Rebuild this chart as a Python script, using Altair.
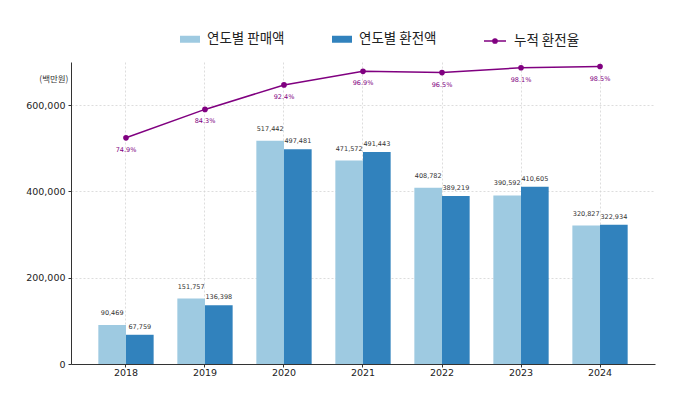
import altair as alt
import pandas as pd

years = ["2018", "2019", "2020", "2021", "2022", "2023", "2024"]
sales = [90469, 151757, 517442, 471572, 408782, 390592, 320827]
exchange = [67759, 136398, 497481, 491443, 389219, 410605, 322934]
rates = [74.9, 84.3, 92.4, 96.9, 96.5, 98.1, 98.5]
y_ticks = [0, 200000, 400000, 600000]

S1 = "연도별 판매액"
S2 = "연도별 환전액"
S3 = "누적 환전율"

bars_df = pd.DataFrame({
    "year": years * 2,
    "series": [S1] * len(years) + [S2] * len(years),
    "value": sales + exchange,
})
line_df = pd.DataFrame({"year": years, "rate": rates, "series": [S3] * len(years)})

KFONT = "Noto Sans CJK KR"
NFONT = "DejaVu Sans"
PURPLE = "#800080"

x_enc = alt.X(
    "year:N", sort=years, title=None,
    scale=alt.Scale(paddingInner=0.3, paddingOuter=0.346),
    axis=alt.Axis(labelAngle=0, grid=True, bandPosition=0.5, gridDash=[2, 2],
                  gridColor="#d4d4d4", gridWidth=0.8, labelFont=NFONT, labelFontSize=9.5,
                  labelColor="#222", tickSize=3, tickColor="#333", domainColor="#333",
                  labelPadding=0),
)
y_bar = alt.Y(
    "value:Q",
    scale=alt.Scale(domain=[0, 700000], nice=False),
    axis=alt.Axis(values=y_ticks, format=",d", grid=True, gridDash=[2, 2],
                  gridColor="#d4d4d4", gridWidth=0.8, labelFont=NFONT, labelFontSize=9.5,
                  labelColor="#222", tickSize=3, tickColor="#333", domainColor="#333",
                  title="(백만원)", titleAngle=0, titleX=-3, titleY=16, titleAlign="right",
                  titleBaseline="middle", titleFont=KFONT, titleFontSize=8.5,
                  titleFontWeight="normal", titleColor="#333", labelPadding=3),
)
xoff = alt.XOffset("series:N", sort=[S1, S2], scale=alt.Scale(paddingInner=0, paddingOuter=0))

bars = alt.Chart(bars_df).mark_bar().encode(
    x=x_enc,
    xOffset=xoff,
    y=y_bar,
    color=alt.Color(
        "series:N",
        scale=alt.Scale(domain=[S1, S2], range=["#9ecae1", "#3182bd"]),
        legend=alt.Legend(orient="none", legendX=109, legendY=-33, direction="horizontal",
                          title=None, symbolType="M-1,-0.35H1V0.35H-1Z", symbolSize=400,
                          symbolStrokeWidth=0, labelFont=KFONT, labelFontSize=13.5,
                          labelColor="#222", columnPadding=47, labelOffset=7),
    ),
)

lbl_s1 = alt.Chart(bars_df).transform_filter(alt.datum.series == S1).mark_text(
    font=NFONT, fontSize=6.5, color="#333", baseline="middle", dy=-12
).encode(x=alt.X("year:N", sort=years), xOffset=xoff, y="value:Q",
         text=alt.Text("value:Q", format=",d"))
lbl_s2 = alt.Chart(bars_df).transform_filter(alt.datum.series == S2).mark_text(
    font=NFONT, fontSize=6.5, color="#333", baseline="middle", dy=-8
).encode(x=alt.X("year:N", sort=years), xOffset=xoff, y="value:Q",
         text=alt.Text("value:Q", format=",d"))

bar_layer = alt.layer(bars, lbl_s1, lbl_s2)

y_rate = alt.Y("rate:Q", scale=alt.Scale(domain=[0, 100], nice=False), axis=None)
line = alt.Chart(line_df).mark_line(strokeWidth=1.5).encode(
    x=alt.X("year:N", sort=years),
    y=y_rate,
    stroke=alt.Stroke(
        "series:N",
        scale=alt.Scale(domain=[S3], range=[PURPLE]),
        legend=alt.Legend(orient="none", legendX=412, legendY=-33, title=None,
                          symbolType="M-1,0H1M-0.2,0A0.2,0.2,0,1,1,0.2,0A0.2,0.2,0,1,1,-0.2,0Z",
                          symbolSize=484, symbolStrokeWidth=1.3, symbolFillColor=PURPLE,
                          symbolStrokeColor=PURPLE, labelFont=KFONT, labelFontSize=13.5,
                          labelColor="#222", labelOffset=7),
    ),
)
pts = alt.Chart(line_df).mark_point(filled=True, size=32, color=PURPLE, opacity=1).encode(
    x=alt.X("year:N", sort=years), y=y_rate)
pct = alt.Chart(line_df).transform_calculate(
    lab="format(datum.rate, '.1f') + '%'"
).mark_text(font=NFONT, fontSize=6.5, color=PURPLE, baseline="middle", dy=12).encode(
    x=alt.X("year:N", sort=years), y=y_rate, text="lab:N")

line_layer = alt.layer(line, pts, pct)

chart = alt.layer(bar_layer, line_layer).resolve_scale(
    y="independent"
).properties(
    width=584, height=302,
    autosize=alt.AutoSizeParams(type="none"),
    padding={"left": 63, "top": 54, "right": 37, "bottom": 21},
).configure_view(stroke=None)

chart.save("out.html", embed_options={"renderer": "svg", "actions": False})
